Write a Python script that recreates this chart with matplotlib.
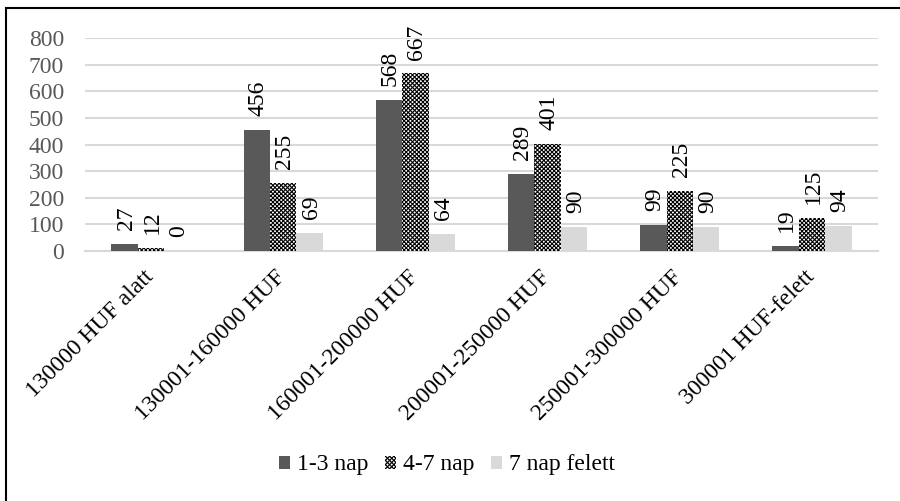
import numpy as np
import matplotlib.pyplot as plt
import matplotlib.transforms as mtransforms
from matplotlib.patches import Rectangle

plt.rcParams['font.family'] = ['Liberation Serif', 'DejaVu Serif']
plt.rcParams['hatch.linewidth'] = 0.8

categories = ['130000 HUF alatt', '130001-160000 HUF', '160001-200000 HUF',
              '200001-250000 HUF', '250001-300000 HUF', '300001 HUF-felett']
nap_1_3 = [27, 456, 568, 289, 99, 19]
nap_4_7 = [12, 255, 667, 401, 225, 125]
nap_7_felett = [0, 69, 64, 90, 90, 94]
series_names = ['1-3 nap', '4-7 nap', '7 nap felett']

fs = 17
fig = plt.figure(figsize=(9, 5.01), dpi=100)
ax = fig.add_axes([0.0944, 0.499, 0.8812, 0.425])

x = np.arange(len(categories))
w = 0.2
styles = [dict(color='#595959'),
          dict(facecolor='white', edgecolor='black', hatch='xxxxxxxx', linewidth=0),
          dict(color='#d9d9d9')]
for i, (vals, name) in enumerate(zip([nap_1_3, nap_4_7, nap_7_felett], series_names)):
    pos = x + (i - 1) * w
    ax.bar(pos, vals, w, label=name, zorder=3, **styles[i])
    for px, v in zip(pos, vals):
        ax.annotate(str(v), (px, v), xytext=(1, 10), textcoords='offset points',
                    rotation=90, ha='center', va='bottom', fontsize=fs,
                    annotation_clip=False)

ax.set_ylim(0, 800)
ax.set_xlim(-0.5, len(categories) - 0.5)
ax.set_yticks(range(0, 801, 100))
ax.yaxis.grid(True, color='#d9d9d9', linewidth=1.5, zorder=0)
for s in ['top', 'right', 'left']:
    ax.spines[s].set_visible(False)
ax.spines['bottom'].set_color('#d9d9d9')
ax.spines['bottom'].set_linewidth(1.5)
ax.tick_params(length=0, labelsize=fs, labelcolor='#595959')
ax.tick_params(axis='y', pad=15)
ax.set_xticks(x)
ax.set_xticklabels(categories, rotation=45, ha='right', rotation_mode='anchor',
                   color='black')
ax.tick_params(axis='x', pad=6)
shift = mtransforms.ScaledTranslation(-8 / 100, -7 / 100, fig.dpi_scale_trans)
for lbl in ax.get_xticklabels():
    lbl.set_transform(lbl.get_transform() + shift)

fig.legend(loc='center', bbox_to_anchor=(0.497, 0.072), ncol=3, frameon=False,
           fontsize=fs, handlelength=0.47, handleheight=0.47, handletextpad=0.3,
           columnspacing=0.7)

# outer chart frame (cut off at right and bottom)
fig.patches.append(Rectangle((6 / 900, -0.1), 1.2, 1 - 8 / 501 + 0.1,
                             transform=fig.transFigure, fill=False,
                             edgecolor='black', linewidth=1.5))

fig.savefig('out.png', dpi=100)
